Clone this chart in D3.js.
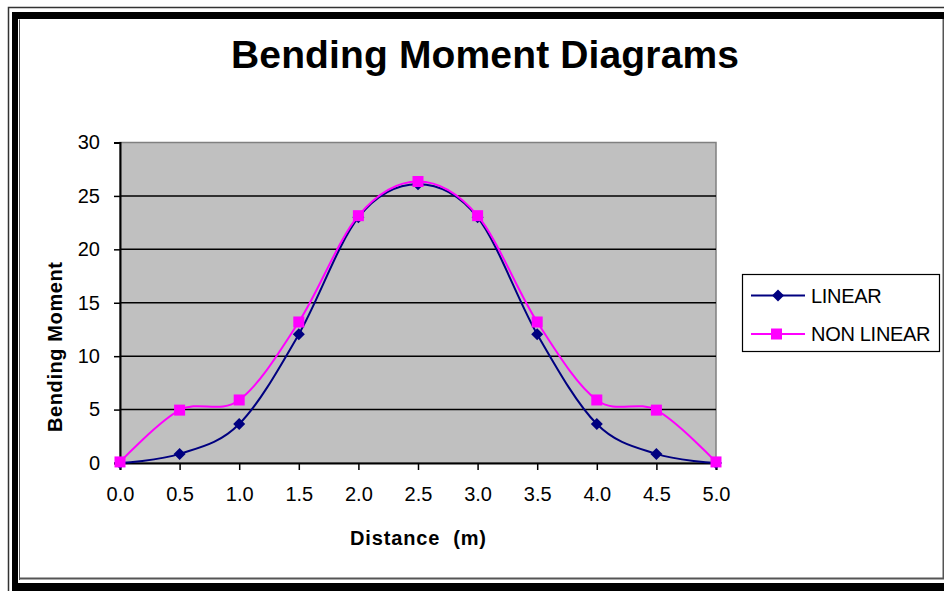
<!DOCTYPE html>
<html><head><meta charset="utf-8">
<script src="https://cdn.jsdelivr.net/npm/d3@7"></script>
<style>body{margin:0;background:#fff}svg{display:block}</style>
</head><body>
<script>
const distances = [0.0, 0.5, 1.0, 1.5, 2.0, 2.5, 3.0, 3.5, 4.0, 4.5, 5.0];
const linearValues = [0.0, 0.85, 3.65, 12.05, 23.0, 26.1, 23.0, 12.05, 3.65, 0.85, 0.0];
const nonLinearValues = [0.1, 4.95, 5.9, 13.2, 23.15, 26.35, 23.15, 13.2, 5.9, 4.95, 0.1];
const yTicks = [0, 5, 10, 15, 20, 25, 30];
const xTicks = [0.0, 0.5, 1.0, 1.5, 2.0, 2.5, 3.0, 3.5, 4.0, 4.5, 5.0];
const seriesNames = ["LINEAR", "NON LINEAR"];

const W = 944, H = 591;
const svg = d3.select("body").append("svg").attr("width", W).attr("height", H);
const font = "Arial, 'Liberation Sans', sans-serif";

// frame
svg.append("path").attr("d", `M8.5,${H} V7.5 H${W}`).attr("fill","none").attr("stroke","#333").attr("stroke-width",1.5);
svg.append("rect").attr("x",12).attr("y",12).attr("width",6).attr("height",H-12).attr("fill","#000");
svg.append("rect").attr("x",12).attr("y",12).attr("width",W-12).attr("height",7).attr("fill","#000");
svg.append("rect").attr("x",12).attr("y",583).attr("width",W-12).attr("height",H-583).attr("fill","#000");
svg.append("path").attr("d", `M19.5,580 V19.5`).attr("fill","none").attr("stroke","#555").attr("stroke-width",1);
svg.append("path").attr("d", `M19,578.5 H943.5 V19`).attr("fill","none").attr("stroke","#555").attr("stroke-width",2);

// title
svg.append("text").attr("x",485).attr("y",68).attr("text-anchor","middle")
  .attr("font-family",font).attr("font-weight","bold").attr("font-size",39)
  .attr("textLength",508).attr("lengthAdjust","spacing")
  .text("Bending Moment Diagrams");

const x = d3.scaleLinear().domain([0,5]).range([120,716]);
const y = d3.scaleLinear().domain([0,30]).range([463,142.5]);

// plot area
svg.append("rect").attr("x",x(0)).attr("y",y(30)).attr("width",x(5)-x(0)).attr("height",y(0)-y(30))
  .attr("fill","#C0C0C0").attr("stroke","#808080").attr("stroke-width",1.5);

// gridlines
svg.append("g").selectAll("line").data(yTicks.filter(d=>d>0 && d<30)).join("line")
  .attr("x1",x(0)).attr("x2",x(5)).attr("y1",d=>y(d)).attr("y2",d=>y(d))
  .attr("stroke","#000").attr("stroke-width",1.5);

// y axis
const yAxis = d3.axisLeft(y).tickValues(yTicks).tickSize(6).tickPadding(14).tickFormat(d3.format("d"));
const gy = svg.append("g").attr("transform",`translate(${x(0)},0)`).call(yAxis);
gy.select(".domain").attr("stroke","#000").attr("stroke-width",2);
gy.selectAll(".tick line").attr("stroke","#000").attr("stroke-width",1.5);
gy.selectAll("text").attr("font-family",font).attr("font-size",20).attr("fill","#000");

// x axis
const xAxis = d3.axisBottom(x).tickValues(xTicks).tickSize(7).tickPadding(17).tickFormat(d3.format(".1f"));
const gx = svg.append("g").attr("transform",`translate(0,${y(0)})`).call(xAxis);
gx.select(".domain").attr("stroke","#000").attr("stroke-width",2);
gx.selectAll(".tick line").attr("stroke","#000").attr("stroke-width",1.5);
gx.selectAll("text").attr("font-family",font).attr("font-size",20).attr("fill","#000");

// axis titles
svg.append("text").attr("transform","translate(62,347) rotate(-90)").attr("text-anchor","middle")
  .attr("font-family",font).attr("font-weight","bold").attr("font-size",20)
  .attr("textLength",170).attr("lengthAdjust","spacing").text("Bending Moment");
svg.append("text").attr("x",418).attr("y",545).attr("text-anchor","middle")
  .attr("font-family",font).attr("font-weight","bold").attr("font-size",20)
  .attr("textLength",136).attr("lengthAdjust","spacing")
  .attr("xml:space","preserve").style("white-space","pre").text("Distance  (m)");

const line = d3.line().x((d,i)=>x(distances[i])).y(d=>y(d)).curve(d3.curveCatmullRom.alpha(0));
const navy = "#000080", magenta = "#FF00FF";
const diamondPath = "M0,-6L6,0L0,6L-6,0Z";

svg.append("path").datum(linearValues).attr("d",line).attr("fill","none").attr("stroke",navy).attr("stroke-width",2);
svg.append("g").selectAll("path").data(linearValues).join("path")
  .attr("transform",(d,i)=>`translate(${x(distances[i])},${y(d)})`).attr("d",diamondPath).attr("fill",navy);

svg.append("path").datum(nonLinearValues).attr("d",line).attr("fill","none").attr("stroke",magenta).attr("stroke-width",2);
svg.append("g").selectAll("rect").data(nonLinearValues).join("rect")
  .attr("x",(d,i)=>x(distances[i])-5.5).attr("y",d=>y(d)-5.5).attr("width",11).attr("height",11).attr("fill",magenta);

// legend
const lg = svg.append("g");
lg.append("rect").attr("x",742.5).attr("y",274.5).attr("width",197).attr("height",77).attr("fill","#fff").attr("stroke","#000").attr("stroke-width",1.2);
const colors = [navy, magenta];
seriesNames.forEach((name,i)=>{
  const cy = 295.5 + i*38.5;
  lg.append("line").attr("x1",751).attr("x2",805).attr("y1",cy).attr("y2",cy).attr("stroke",colors[i]).attr("stroke-width",2);
  if(i===0){
    lg.append("path").attr("transform",`translate(778,${cy})`).attr("d",diamondPath).attr("fill",navy);
  } else {
    lg.append("rect").attr("x",771).attr("y",cy-5.5).attr("width",11).attr("height",11).attr("fill",magenta);
  }
  lg.append("text").attr("x",811).attr("y",cy+7.3).attr("font-family",font).attr("font-size",20)
    .attr("letter-spacing",-0.3).text(name);
});
</script>
</body></html>
